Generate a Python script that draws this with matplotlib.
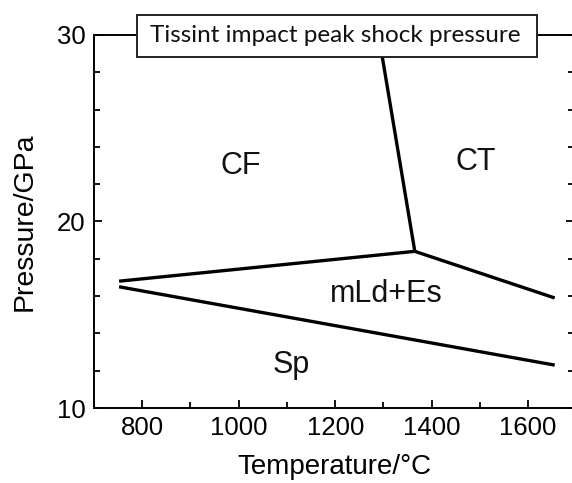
import matplotlib
matplotlib.use("Agg")
import matplotlib.pyplot as plt
from matplotlib.ticker import MultipleLocator
from matplotlib.patches import Rectangle

plt.rcParams['font.family'] = ['Liberation Sans', 'DejaVu Sans']

# Phase boundary lines (Temperature / degC, Pressure / GPa)
cf_ct_T = [1290, 1365]
cf_ct_P = [30.0, 18.4]
cf_mld_T = [752, 1365]
cf_mld_P = [16.8, 18.4]
ct_mld_T = [1365, 1655]
ct_mld_P = [18.4, 15.9]
sp_mld_T = [752, 1655]
sp_mld_P = [16.5, 12.3]

# Region labels
region_names = ["CF", "CT", "mLd+Es", "Sp"]
region_T = [1004, 1492, 1305, 1108]
region_P = [22.95, 23.2, 16.1, 12.3]

title_text = "Tissint impact peak shock pressure"
title_T = 1200
title_P = 29.95

x_ticks = [800, 1000, 1200, 1400, 1600]
y_ticks = [10, 20, 30]

fig = plt.figure(figsize=(5.72, 4.83), dpi=100)
ax = fig.add_axes([94/572, 1 - 408/483, (574 - 94)/572, (408 - 35)/483])

lw = 2.4
for T, P in [(cf_ct_T, cf_ct_P), (cf_mld_T, cf_mld_P), (ct_mld_T, ct_mld_P), (sp_mld_T, sp_mld_P)]:
    ax.plot(T, P, color='black', lw=lw, solid_capstyle='butt', zorder=2, clip_on=False)

for name, T, P in zip(region_names, region_T, region_P):
    ax.text(T, P, name, fontsize=22, ha='center', va='center', color='#111111')

# title box (in axes-fraction coordinates)
box = Rectangle((43/480, 1 + (35 - 57)/373), 400/480, 42/373, transform=ax.transAxes,
                facecolor='white', edgecolor='#222222', linewidth=1.4, zorder=5, clip_on=False)
ax.add_patch(box)
ax.text(title_T, title_P, title_text, fontsize=17.5, family=['Lato', 'DejaVu Sans'],
        ha='center', va='center', zorder=6, clip_on=False, color='#111111')

ax.set_xlim(700, 1695)
ax.set_ylim(10, 30)
ax.set_xticks(x_ticks)
ax.set_yticks(y_ticks)
ax.xaxis.set_minor_locator(MultipleLocator(100))
ax.yaxis.set_minor_locator(MultipleLocator(2))
ax.tick_params(which='both', direction='in', top=False, right=True, width=1.3,
               labelsize=18.5, pad=6)
ax.tick_params(which='major', length=6)
ax.tick_params(which='minor', length=4)
for s in ax.spines.values():
    s.set_linewidth(1.4)

ax.set_xlabel("Temperature/\u00b0C", fontsize=20, labelpad=10)
ax.set_ylabel("Pressure/GPa", fontsize=20.5, labelpad=14)

fig.savefig("out.png", dpi=100)
